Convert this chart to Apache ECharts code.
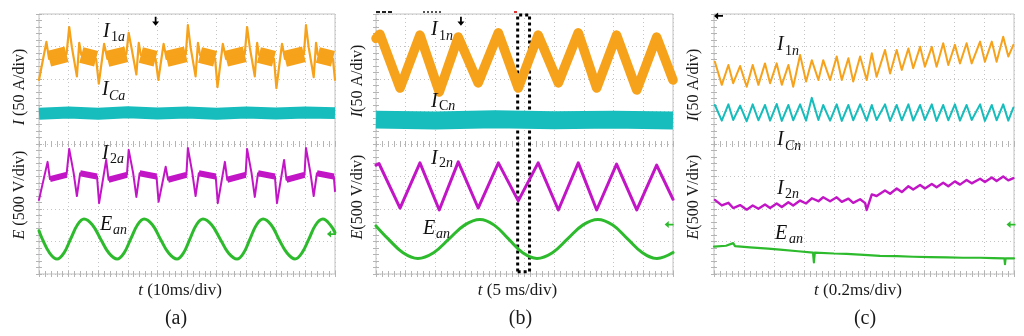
<!DOCTYPE html>
<html><head><meta charset="utf-8">
<script src="https://cdn.jsdelivr.net/npm/echarts@6/dist/echarts.min.js"></script>
<style>html,body{margin:0;padding:0;background:#fff}#c{width:1024px;height:336px}</style>
</head><body><div id="c"></div>
<script>
// ---------- data (x in divisions 0..10, y in divisions 0..8 from bottom) ----------
// Panel (a)
const ORANGE_A = [[0,5.97],[0.25,7.14],[0.34,6.62],[0.93,6.76],
 [1.02,7.6],[1.11,6.98],[1.28,6.08],[1.36,7.11],[1.43,6.74],[1.93,6.62],[2.02,5.86],[2.20,7.08],[2.31,6.62],[2.95,6.76],
 [3.03,7.42],[3.12,6.98],[3.29,6.14],[3.37,7.11],[3.44,6.74],[3.94,6.62],[4.03,5.97],[4.21,7.08],[4.31,6.62],[4.96,6.76],
 [5.03,7.66],[5.12,6.98],[5.29,6.08],[5.37,7.11],[5.44,6.74],[5.95,6.62],[6.03,5.75],[6.21,7.08],[6.32,6.62],[6.95,6.76],
 [7.03,7.6],[7.12,6.98],[7.29,6.08],[7.37,7.11],[7.43,6.74],[7.94,6.62],[8.02,5.72],[8.21,7.08],[8.31,6.62],[8.95,6.76],
 [9.02,7.66],[9.11,6.98],[9.28,6.06],[9.36,7.11],[9.42,6.74],[9.93,6.62],[10,5.97]];
const ORANGE_A_BAND = [[0.34,6.62],[0.93,6.76],[0.93,'-'],[1.43,6.74],[1.93,6.62],[1.93,'-'],
 [2.31,6.62],[2.95,6.76],[2.95,'-'],[3.44,6.74],[3.94,6.62],[3.94,'-'],
 [4.31,6.62],[4.96,6.76],[4.96,'-'],[5.44,6.74],[5.95,6.62],[5.95,'-'],
 [6.32,6.62],[6.95,6.76],[6.95,'-'],[7.43,6.74],[7.94,6.62],[7.94,'-'],
 [8.31,6.62],[8.95,6.76],[8.95,'-'],[9.42,6.74],[9.93,6.62]];
const CYAN_A = [[0,4.93],[1,4.97],[2,4.93],[3,4.98],[4,4.94],[5,4.97],[6,4.93],[7,4.97],[8,4.94],[9,4.97],[10,4.95]];
const PURPLE_A = [[0,2.28],[0.29,3.45],[0.37,2.92],[0.93,3.05],
 [1.02,3.85],[1.17,3.11],[1.28,2.4],[1.39,3.1],[1.96,3.0],[2.03,2.18],[2.27,3.51],[2.35,2.9],[2.97,3.05],
 [3.03,3.82],[3.18,3.11],[3.29,2.37],[3.40,3.1],[3.97,3.0],[4.04,2.22],[4.28,3.3],[4.36,2.9],[4.98,3.05],
 [5.03,3.88],[5.18,3.11],[5.29,2.4],[5.40,3.1],[5.97,3.0],[6.04,2.18],[6.28,3.45],[6.36,2.9],[6.98,3.05],
 [7.03,3.85],[7.18,3.11],[7.29,2.37],[7.40,3.1],[7.97,3.0],[8.04,2.18],[8.28,3.51],[8.36,2.9],[8.97,3.05],
 [9.02,3.88],[9.17,3.11],[9.28,2.4],[9.39,3.1],[9.96,3.0],[10,2.55]];
const PURPLE_A_BAND = [[0.37,2.92],[0.93,3.05],[0.93,'-'],[1.39,3.1],[1.96,3.0],[1.96,'-'],
 [2.35,2.9],[2.97,3.05],[2.97,'-'],[3.40,3.1],[3.97,3.0],[3.97,'-'],
 [4.36,2.9],[4.98,3.05],[4.98,'-'],[5.40,3.1],[5.97,3.0],[5.97,'-'],
 [6.36,2.9],[6.98,3.05],[6.98,'-'],[7.40,3.1],[7.97,3.0],[7.97,'-'],
 [8.36,2.9],[8.97,3.05],[8.97,'-'],[9.39,3.1],[9.96,3.0]];
const GREEN_A = [[0,1.33],[0.11,1.08],[0.36,0.645],[0.61,0.46],[0.84,0.645],[1.07,1.08],[1.3,1.515],[1.52,1.69],
 [1.8,1.515],[2.08,1.08],[2.36,0.645],[2.64,0.46],[2.87,0.645],[3.1,1.08],[3.33,1.515],[3.55,1.69],
 [3.83,1.515],[4.1,1.08],[4.38,0.645],[4.66,0.46],[4.88,0.645],[5.1,1.08],[5.32,1.515],[5.54,1.69],
 [5.83,1.515],[6.12,1.08],[6.4,0.645],[6.69,0.46],[6.91,0.645],[7.13,1.08],[7.35,1.515],[7.57,1.69],
 [7.84,1.515],[8.1,1.08],[8.38,0.645],[8.65,0.46],[8.88,0.645],[9.12,1.08],[9.35,1.515],[9.59,1.69],
 [9.85,1.5],[10,1.27]];
// Panel (b)
const ORANGE_B = [[0,7.25],[0.13,7.38],[0.81,5.72],[1.48,7.35],[2.13,5.6],[2.77,7.29],[3.44,5.88],[4.12,7.42],
 [4.79,5.72],[5.46,7.35],[6.14,5.88],[6.81,7.42],[7.43,5.72],[8.10,7.35],[8.78,5.66],[9.45,7.29],[10,5.97]];
const CYAN_B = [[0,4.75],[2,4.72],[4,4.76],[6,4.73],[8,4.75],[10,4.72]];
const PURPLE_B = [[0,3.35],[0.1,3.4],[0.81,2.03],[1.48,3.42],[2.13,1.97],[2.77,3.45],[3.44,2.03],[4.12,3.42],
 [4.79,2.25],[5.46,3.42],[6.14,1.97],[6.81,3.42],[7.43,1.97],[8.10,3.38],[8.78,1.97],[9.45,3.35],[10,2.3]];
const GREEN_B = [[0,1.48],[0.41,1.08],[0.91,0.656],[1.41,0.48],[1.94,0.656],[2.46,1.08],[2.98,1.504],[3.5,1.68],
 [3.98,1.504],[4.46,1.08],[4.94,0.656],[5.42,0.48],[5.94,0.656],[6.45,1.08],[6.96,1.504],[7.47,1.68],
 [7.97,1.504],[8.47,1.08],[8.97,0.656],[9.46,0.48],[10,0.66]];
// Panel (c)
const ORANGE_C = [[0.03,6.53],[0.26,5.82],[0.48,6.43],[0.64,5.87],[0.87,6.40],[1.09,5.76],[1.29,6.43],[1.48,5.82],
 [1.70,6.48],[1.87,5.87],[2.09,6.48],[2.26,5.82],[2.48,6.43],[2.64,5.76],[2.87,6.74],[3.07,5.92],[3.26,6.58],
 [3.48,5.97],[3.64,6.58],[3.87,5.97],[4.09,6.69],[4.26,5.97],[4.48,6.64],[4.64,5.92],[4.87,6.69],[5.09,5.97],
 [5.26,6.79],[5.42,6.07],[5.70,6.89],[5.87,6.17],[6.09,6.89],[6.26,6.28],[6.48,6.94],[6.64,6.33],[6.87,6.99],
 [7.03,6.38],[7.26,6.99],[7.42,6.38],[7.64,7.10],[7.81,6.43],[8.03,7.05],[8.20,6.48],[8.42,7.10],[8.59,6.48],
 [8.87,7.15],[9.03,6.53],[9.26,7.15],[9.42,6.53],[9.64,7.30],[9.81,6.69],[9.98,7.05]];
const CYAN_C = [[0.03,5.2],[0.26,4.72],[0.48,5.22],[0.64,4.74],[0.87,5.18],[1.09,4.7],[1.29,5.22],[1.48,4.73],
 [1.70,5.2],[1.87,4.72],[2.09,5.23],[2.26,4.71],[2.48,5.2],[2.64,4.73],[2.87,5.22],[3.07,4.72],[3.26,5.42],
 [3.48,4.74],[3.64,5.2],[3.87,4.72],[4.09,5.22],[4.26,4.71],[4.48,5.2],[4.64,4.73],[4.87,5.22],[5.09,4.72],
 [5.26,5.2],[5.42,4.74],[5.70,5.22],[5.87,4.71],[6.09,5.2],[6.26,4.73],[6.48,5.22],[6.64,4.72],[6.87,5.2],
 [7.03,4.74],[7.26,5.22],[7.42,4.71],[7.64,5.2],[7.81,4.73],[8.03,5.22],[8.20,4.72],[8.42,5.2],[8.59,4.74],
 [8.87,5.22],[9.03,4.71],[9.26,5.2],[9.42,4.73],[9.64,5.22],[9.81,4.72],[9.98,5.12]];
const PURPLE_C = [[0.03,2.28],[0.26,2.11],[0.48,2.19],[0.64,2.03],[0.87,2.12],[1.09,1.98],[1.29,2.11],[1.48,2.01],
 [1.70,2.14],[1.87,2.03],[2.09,2.17],[2.26,2.06],[2.48,2.21],[2.64,2.11],[2.87,2.26],[3.07,2.17],[3.26,2.33],
 [3.48,2.24],[3.64,2.36],[3.87,2.24],[4.09,2.36],[4.26,2.22],[4.48,2.32],[4.64,2.19],[4.87,2.30],[5.04,2.18],
 [5.09,1.97],[5.26,2.45],[5.42,2.40],[5.70,2.57],[5.87,2.47],[6.09,2.63],[6.26,2.52],[6.48,2.70],[6.64,2.60],
 [6.87,2.74],[7.03,2.63],[7.26,2.77],[7.42,2.67],[7.64,2.81],[7.81,2.70],[8.03,2.85],[8.20,2.75],[8.42,2.89],
 [8.59,2.79],[8.87,2.93],[9.03,2.83],[9.26,2.97],[9.42,2.86],[9.64,3.00],[9.81,2.88],[9.98,2.95]];
const GREEN_C = [[0,0.84],[0.4,0.87],[0.64,0.95],[0.7,0.86],[1.2,0.82],[1.8,0.78],[2.2,0.75],[2.8,0.7],[3.3,0.66],
 [3.33,0.36],[3.36,0.66],[4.0,0.63],[4.42,0.62],[5.0,0.59],[5.53,0.56],[6.1,0.55],[6.64,0.53],[7.2,0.52],
 [7.76,0.51],[8.3,0.5],[8.87,0.5],[9.3,0.49],[9.68,0.48],[9.7,0.3],[9.72,0.48],[10,0.48]];
// markers (scope arrows) and zoom box
const DOWN_ARROWS = [[0,3.94,7.78],[1,2.86,7.78]];
const LEFT_ARROWS_GREEN = [[0,9.88,1.23],[1,9.87,1.52],[2,9.9,1.52]];
const LEFT_ARROW_BLACK = [[2,0.15,7.94]];
const ZOOM_BOX_B = [[4.77,0.07],[5.17,7.97]];
const X_TITLES = ['{i|t} (10ms/div)','{i|t} (5 ms/div)','{i|t} (0.2ms/div)'];
const I_TITLES = ['{i|I} (50 A/div)','{i|I}(50 A/div)','{i|I}(50 A/div)'];
const E_TITLES = ['{i|E} (500 V/div)','{i|E}(500 V/div)','{i|E}(500 V/div)'];
const CAPTIONS = ['(a)','(b)','(c)'];

// ---------- layout & style ----------
const O='#F6A21A', C='#17BDBD', M='#C216C6', G='#2DBB2D';
const PANELS = [{left:39,width:296},{left:376,width:297},{left:714,width:300}];
const TOP=14, H=260;
const SERIF='"Liberation Serif","DejaVu Serif",serif';
const tickLS={color:'#b4b4b4',width:1};
const splitLS={color:'#c4c4c4',type:[1,3],width:1};

const grids=[], xAxes=[], yAxes=[], series=[], graphic=[];
function ax(grid,pos,min,max,opt){
  return Object.assign({gridIndex:grid,type:'value',min:min,max:max,interval:1,position:pos,
    axisLine:{show:false},axisLabel:{show:false},splitLine:{show:false},minorSplitLine:{show:false},
    axisTick:{show:true,inside:true,length:3,lineStyle:tickLS},
    minorTick:{show:true,splitNumber:5,length:3,lineStyle:tickLS}},opt||{});
}
const MAINX=[], MAINY=[];
PANELS.forEach((p,i)=>{
  const g=grids.length;
  grids.push({left:p.left,top:TOP,width:p.width,height:H,show:true,borderColor:'#c2c2c2',borderWidth:1});
  MAINX.push(xAxes.length); MAINY.push(yAxes.length);
  xAxes.push(ax(g,'bottom',0,10,{splitLine:{show:true,lineStyle:splitLS}}));
  xAxes.push(ax(g,'top',0,10));
  yAxes.push(ax(g,'left',0,8,{splitLine:{show:true,lineStyle:splitLS}}));
  yAxes.push(ax(g,'right',0,8));
  // thin grid along the horizontal centre line: ticks both sides
  const gh=grids.length;
  grids.push({left:p.left,top:TOP+H/2,width:p.width,height:0.01,show:false});
  xAxes.push(ax(gh,'bottom',0,10,{axisTick:{show:true,inside:false,length:3,lineStyle:tickLS}}));
  xAxes.push(ax(gh,'top',0,10,{axisTick:{show:true,inside:false,length:3,lineStyle:tickLS}}));
  yAxes.push(ax(gh,'left',0,1,{show:false}));
  // titles
  const cx=p.left+p.width/2;
  graphic.push({type:'text',x:cx-[7,7,6][i],y:291,style:{text:X_TITLES[i],font:'17px '+SERIF,fill:'#1a1a1a',align:'center',verticalAlign:'middle',rich:{i:{fontStyle:'italic',fontFamily:SERIF,fontSize:17}}}});
  graphic.push({type:'text',x:cx-[11,4,-1][i],y:319,style:{text:CAPTIONS[i],font:'20px '+SERIF,fill:'#1a1a1a',align:'center',verticalAlign:'middle'}});
  const yx=[20,358,694][i];
  graphic.push({type:'text',x:yx,y:[87,81,85][i],rotation:Math.PI/2,style:{text:I_TITLES[i],font:'16px '+SERIF,fill:'#1a1a1a',align:'center',verticalAlign:'middle',rich:{i:{fontStyle:'italic',fontFamily:SERIF,fontSize:16}}}});
  graphic.push({type:'text',x:yx,y:[195,197,197][i],rotation:Math.PI/2,style:{text:E_TITLES[i],font:'16px '+SERIF,fill:'#1a1a1a',align:'center',verticalAlign:'middle',rich:{i:{fontStyle:'italic',fontFamily:SERIF,fontSize:16}}}});
});

function ln(p,data,color,width,extra){
  return Object.assign({type:'line',xAxisIndex:MAINX[p],yAxisIndex:MAINY[p],data:data,symbol:'none',silent:true,animation:false,
    clip:false,
    lineStyle:{color:color,width:width,join:'round',cap:'round'},itemStyle:{color:color},z:3},extra||{});
}
const downArrow='path://M3,0 H5 V6 H8 L4,11 L0,6 H3 Z';
const leftArrow='path://M0,4 L5,0 V3 H11 V5 H5 V8 Z';
function mp(list,sym,size,color){
  return {silent:true,animation:false,label:{show:false},
    data:list.map(a=>({coord:[a[1],a[2]],symbol:sym,symbolSize:size,itemStyle:{color:color}}))};
}

series.push(ln(0,ORANGE_A_BAND,O,16,{lineStyle:{color:O,width:16,join:'round',cap:'butt'}}));
series.push(ln(0,ORANGE_A,O,2.2,{markPoint:mp(DOWN_ARROWS.filter(a=>a[0]===0),downArrow,[7,9],'#000')}));
series.push(ln(0,CYAN_A,C,12,{lineStyle:{color:C,width:12,join:'round',cap:'butt'}}));
series.push(ln(0,PURPLE_A_BAND,M,6,{lineStyle:{color:M,width:6,join:'round',cap:'butt'}}));
series.push(ln(0,PURPLE_A,M,2));
series.push(ln(0,GREEN_A,G,3,{smooth:0.4,markPoint:mp(LEFT_ARROWS_GREEN.filter(a=>a[0]===0),leftArrow,[9,7],G)}));

series.push(ln(1,ORANGE_B,O,9.5,{markPoint:mp(DOWN_ARROWS.filter(a=>a[0]===1),downArrow,[7,9],'#000'),
  markArea:{silent:true,animation:false,itemStyle:{color:'rgba(0,0,0,0)',borderColor:'#000',borderWidth:3,borderType:[3,3]},
  data:[[{coord:ZOOM_BOX_B[0]},{coord:ZOOM_BOX_B[1]}]]}}));
series.push(ln(1,CYAN_B,C,18,{lineStyle:{color:C,width:18,join:'round',cap:'butt'}}));
series.push(ln(1,PURPLE_B,M,3));
series.push(ln(1,GREEN_B,G,3,{smooth:0.4,markPoint:mp(LEFT_ARROWS_GREEN.filter(a=>a[0]===1),leftArrow,[9,7],G)}));

series.push(ln(2,ORANGE_C,O,2,{markPoint:mp(LEFT_ARROW_BLACK,leftArrow,[9,7],'#000')}));
series.push(ln(2,CYAN_C,C,2));
series.push(ln(2,PURPLE_C,M,2.4));
series.push(ln(2,GREEN_C,G,2.2,{markPoint:mp(LEFT_ARROWS_GREEN.filter(a=>a[0]===2),leftArrow,[9,7],G)}));

// trace labels
function lab(x,y,main,subText,sx,sy){
  graphic.push({type:'text',x:x,y:y,z:10,style:{text:main,font:'italic 20px '+SERIF,fill:'#111',align:'left',verticalAlign:'middle'}});
  graphic.push({type:'text',x:sx,y:sy,z:10,style:{text:subText,font:'14px '+SERIF,fill:'#111',align:'left',verticalAlign:'middle',
    rich:{r:{fontFamily:SERIF,fontSize:14},i:{fontFamily:SERIF,fontSize:14,fontStyle:'italic'}}}});
}
lab(103,31.5,'I','{r|1}{i|a}',111,37);
lab(102,90,'I','{i|Ca}',109,96);
lab(102,153.5,'I','{r|2}{i|a}',110,159);
lab(100,225,'E','{i|an}',113,230);
lab(431,30,'I','{r|1}{i|n}',439,36);
lab(431,101.5,'I','{r|C}{i|n}',439,106);
lab(431,158.5,'I','{r|2}{i|n}',439,163);
lab(423,228.5,'E','{i|an}',436,234);
lab(777,45,'I','{r|1}{i|n}',785,51);
lab(777,140,'I','{i|Cn}',785,146);
lab(777,189,'I','{r|2}{i|n}',785,194);
lab(775,234,'E','{i|an}',789,239);
// scope status marks at top of panel (b)
graphic.push({type:'line',shape:{x1:376,y1:12,x2:393,y2:12},style:{stroke:'#222',lineWidth:2,lineDash:[4,2]}});
graphic.push({type:'line',shape:{x1:423,y1:12,x2:443,y2:12},style:{stroke:'#555',lineWidth:2,lineDash:[2,2]}});
graphic.push({type:'line',shape:{x1:514,y1:12,x2:517,y2:12},style:{stroke:'#d33',lineWidth:2}});

const chart=echarts.init(document.getElementById('c'),null,{renderer:'canvas'});
chart.setOption({animation:false,backgroundColor:'#fff',grid:grids,xAxis:xAxes,yAxis:yAxes,series:series,graphic:graphic});
</script></body></html>
